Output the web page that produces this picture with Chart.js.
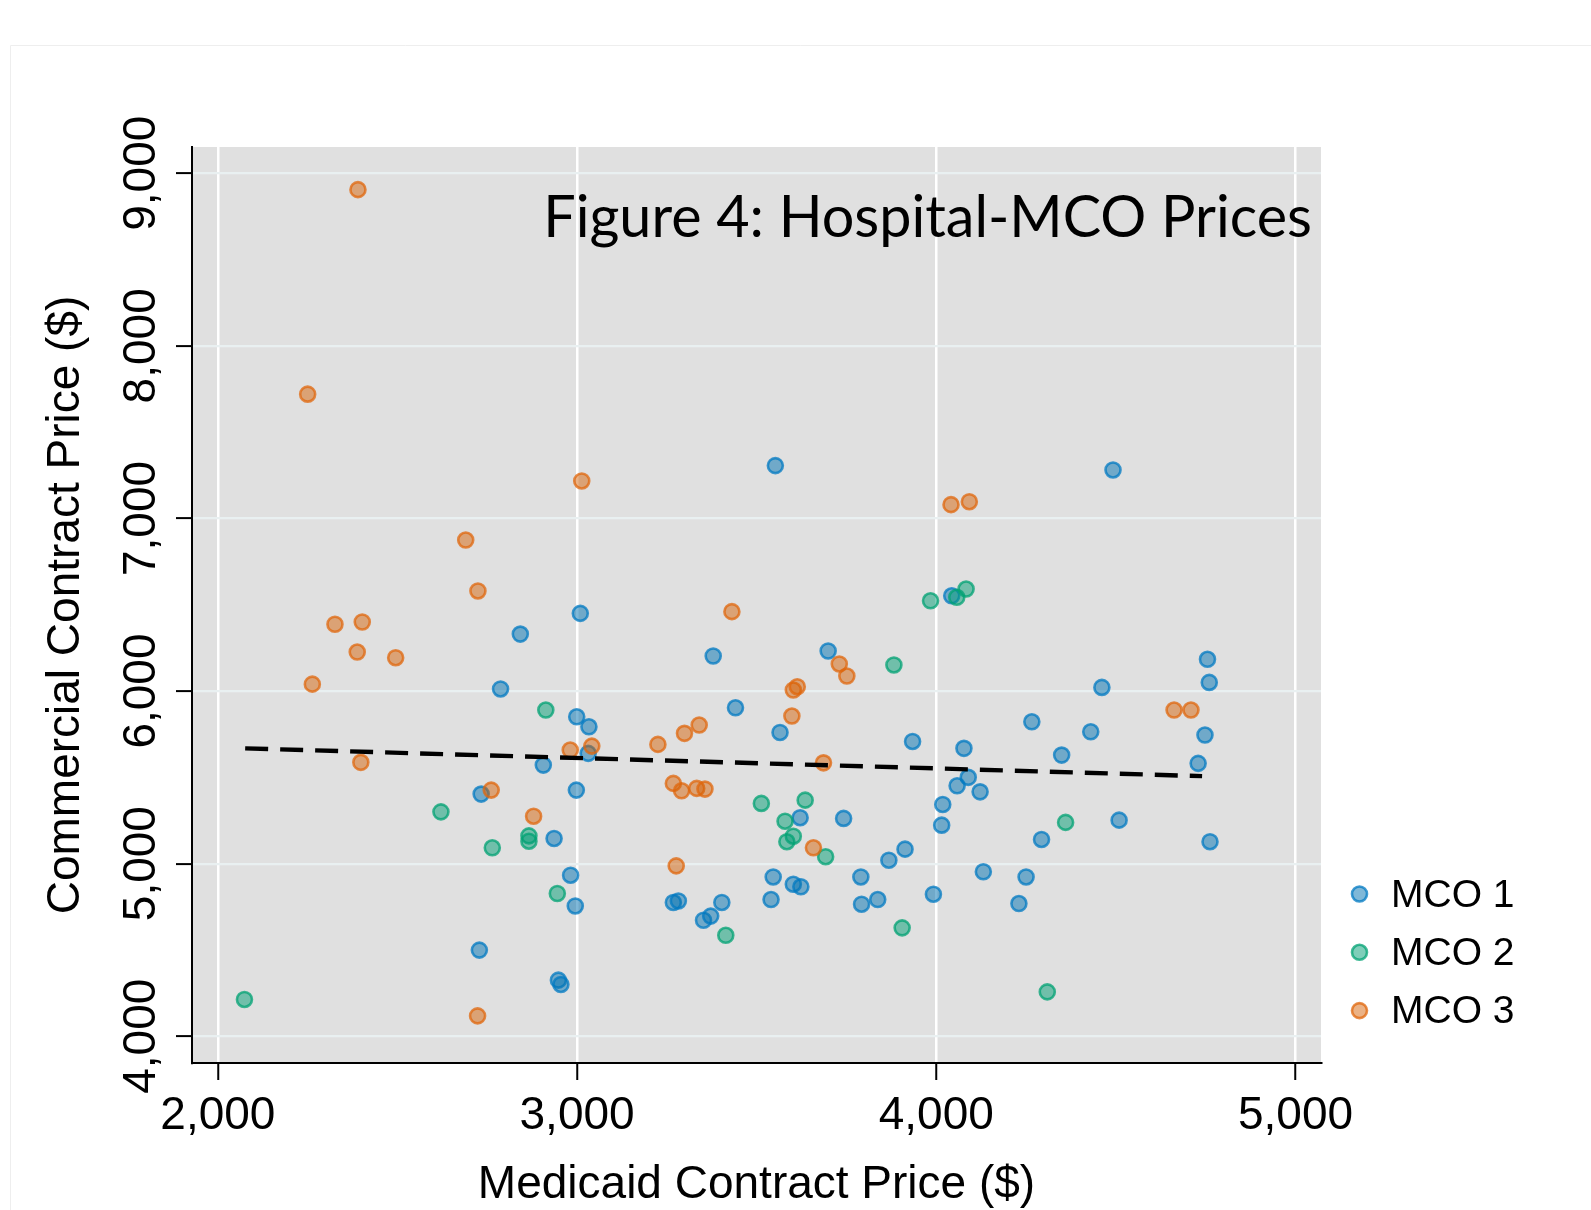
<!DOCTYPE html>
<html>
<head>
<meta charset="utf-8">
<title>Figure 4: Hospital-MCO Prices</title>
<script src="https://cdn.jsdelivr.net/npm/chart.js@4.4.1/dist/chart.umd.min.js"></script>
<style>
  html, body { margin: 0; padding: 0; background: #ffffff; }
  #wrap { width: 1591px; height: 1210px; position: relative; }
</style>
</head>
<body>
<div id="wrap"><canvas id="chart"></canvas></div>
<script>
// Hospital-MCO contract prices: Medicaid (x) vs commercial (y), one series per MCO
const seriesNames = ['MCO 1', 'MCO 2', 'MCO 3'];

const mco1Medicaid = [3552, 4492, 3009, 2842, 3379, 3699, 4755, 4760, 2787, 4461, 3441, 2999, 3033, 3565, 4266,
  4430, 4748, 3934, 4077, 4349, 4729, 2906, 3031, 2733, 2998, 4089, 4058, 4122, 4018, 4015, 3621, 3742, 4509,
  2936, 4293, 4762, 3913, 3868, 4131, 4250, 2982, 3546, 3790, 3602, 3623, 2995, 3268, 3282, 3403, 3540, 3792,
  3837, 3992, 4230, 3352, 3372, 2728, 2948, 2955, 4043];
const mco1Commercial = [7306, 7281, 6450, 6330, 6203, 6232, 6184, 6050, 6012, 6021, 5903, 5851, 5793, 5760, 5822,
  5764, 5745, 5708, 5668, 5629, 5581, 5571, 5639, 5403, 5426, 5500, 5451, 5416, 5343, 5223, 5266, 5262, 5252,
  5146, 5140, 5127, 5084, 5020, 4953, 4923, 4933, 4923, 4923, 4881, 4866, 4755, 4775, 4784, 4775, 4792, 4765,
  4792, 4823, 4769, 4672, 4696, 4499, 4325, 4300, 6552];

const mco2Medicaid = [3984, 4057, 4083, 3882, 2913, 3513, 3635, 3579, 3602, 3584, 3692, 2621, 2866, 2866, 2764,
  2945, 4360, 3905, 3414, 4309, 2074];
const mco2Commercial = [6523, 6543, 6591, 6151, 5890, 5349, 5368, 5246, 5159, 5127, 5040, 5300, 5161, 5130, 5092,
  4827, 5239, 4628, 4585, 4257, 4213];

const mco3Medicaid = [2390, 2250, 3013, 4041, 4092, 2690, 2724, 2326, 2402, 2388, 2495, 2263, 3431, 3730, 3751,
  3602, 3613, 3598, 4662, 4709, 3225, 3299, 3340, 2981, 3041, 3686, 2398, 2761, 3268, 3291, 3333, 3356, 2879,
  3658, 3276, 2723];
const mco3Commercial = [8905, 7720, 7217, 7080, 7097, 6875, 6580, 6387, 6400, 6226, 6193, 6040, 6460, 6157, 6087,
  6006, 6025, 5855, 5890, 5890, 5691, 5755, 5803, 5658, 5681, 5584, 5587, 5426, 5465, 5422, 5436, 5432, 5275,
  5092, 4987, 4118];

// Linear fit through all hospital-MCO pairs (end points)
const fitMedicaid = [2076, 4740];
const fitCommercial = [5668, 5507];

// Axes
const xTicks = [2000, 3000, 4000, 5000];
const xTickLabels = ['2,000', '3,000', '4,000', '5,000'];
const yTicks = [4000, 5000, 6000, 7000, 8000, 9000];
const yTickLabels = ['4,000', '5,000', '6,000', '7,000', '8,000', '9,000'];
const xRange = [1928, 5071];
const yRange = [3845, 9152];

const xTitle = 'Medicaid Contract Price ($)';
const yTitle = 'Commercial Contract Price ($)';
const figureTitle = 'Figure 4: Hospital-MCO Prices';

const toPoints = (xs, ys) => xs.map((x, i) => ({ x: x, y: ys[i] }));

const seriesColors = [
  { fill: 'rgba(0,114,178,0.50)', line: 'rgba(0,122,194,0.74)' },
  { fill: 'rgba(0,158,115,0.50)', line: 'rgba(0,162,115,0.74)' },
  { fill: 'rgba(213,94,0,0.48)',  line: 'rgba(224,102,12,0.74)' }
];

const scatterSet = (i, xs, ys) => ({
  type: 'scatter',
  label: seriesNames[i],
  data: toPoints(xs, ys),
  backgroundColor: seriesColors[i].fill,
  borderColor: seriesColors[i].line,
  borderWidth: 2.6,
  pointRadius: 7.5,
  pointHoverRadius: 7.5,
  order: 3 - i
});

const FONT = '"Liberation Sans", Arial, Helvetica, sans-serif';

// Panel background, outer frame, in-panel heading and the key
const decorations = {
  id: 'decorations',
  beforeDraw(chart) {
    const { ctx, chartArea: a, width, height } = chart;
    ctx.save();
    ctx.fillStyle = '#ffffff';
    ctx.fillRect(0, 0, width, height);
    ctx.strokeStyle = '#eeeeee';
    ctx.lineWidth = 1;
    ctx.beginPath();
    ctx.moveTo(10.5, height);
    ctx.lineTo(10.5, 45.5);
    ctx.lineTo(width, 45.5);
    ctx.stroke();
    ctx.fillStyle = '#e0e0e0';
    ctx.fillRect(a.left, a.top, a.right - a.left, a.bottom - a.top);
    ctx.restore();
  },
  afterDraw(chart) {
    const { ctx } = chart;
    ctx.save();
    ctx.fillStyle = '#000000';
    ctx.font = '57.5px Lato, "Open Sans", sans-serif';
    ctx.textAlign = 'right';
    ctx.textBaseline = 'alphabetic';
    ctx.fillText(figureTitle, 1312, 237);

    // key
    ctx.font = '39px ' + FONT;
    ctx.textAlign = 'left';
    ctx.textBaseline = 'middle';
    seriesNames.forEach((name, i) => {
      const ds = chart.data.datasets[i];
      const cy = 894 + i * 58.3;
      ctx.beginPath();
      ctx.arc(1359.5, cy, 7.5, 0, Math.PI * 2);
      ctx.fillStyle = ds.backgroundColor;
      ctx.fill();
      ctx.lineWidth = 2.6;
      ctx.strokeStyle = ds.borderColor;
      ctx.stroke();
      ctx.fillStyle = '#000000';
      ctx.fillText(name, 1391, cy + 2);
    });
    ctx.restore();
  }
};

new Chart(document.getElementById('chart'), {
  type: 'scatter',
  data: {
    datasets: [
      scatterSet(0, mco1Medicaid, mco1Commercial),
      scatterSet(1, mco2Medicaid, mco2Commercial),
      scatterSet(2, mco3Medicaid, mco3Commercial),
      {
        type: 'line',
        label: 'Linear fit',
        data: toPoints(fitMedicaid, fitCommercial),
        borderColor: '#000000',
        borderWidth: 4.4,
        borderDash: [23, 12],
        pointRadius: 0,
        fill: false,
        order: 0
      }
    ]
  },
  options: {
    responsive: true,
    maintainAspectRatio: false,
    animation: false,
    layout: { padding: { top: 147, right: 270, left: 0, bottom: 0 } },
    plugins: {
      legend: { display: false },
      tooltip: { enabled: false },
      title: { display: false }
    },
    scales: {
      x: {
        type: 'linear',
        min: xRange[0],
        max: xRange[1],
        afterBuildTicks: (s) => { s.ticks = xTicks.map(v => ({ value: v })); },
        afterFit: (s) => { s.height = 147; },
        ticks: {
          callback: (v) => xTickLabels[xTicks.indexOf(v)],
          font: { family: FONT, size: 46 },
          color: '#000000',
          padding: 9,
          maxRotation: 0,
          minRotation: 0
        },
        grid: {
          color: '#ffffff',
          lineWidth: 2.5,
          tickLength: 17,
          tickColor: '#000000',
          tickWidth: 2
        },
        border: { display: true, color: '#000000', width: 2 },
        title: {
          display: true,
          text: xTitle,
          font: { family: FONT, size: 46 },
          color: '#000000',
          padding: { top: 0, bottom: -3 }
        }
      },
      y: {
        type: 'linear',
        min: yRange[0],
        max: yRange[1],
        afterBuildTicks: (s) => { s.ticks = yTicks.map(v => ({ value: v })); },
        afterFit: (s) => { s.width = 192; },
        ticks: {
          callback: (v) => yTickLabels[yTicks.indexOf(v)],
          font: { family: FONT, size: 46 },
          color: '#000000',
          minRotation: 90,
          maxRotation: 90,
          crossAlign: 'center',
          padding: -23.5
        },
        grid: {
          color: '#e9f0f1',
          lineWidth: 2.2,
          tickLength: 16,
          tickColor: '#000000',
          tickWidth: 2
        },
        border: { display: true, color: '#000000', width: 2 },
        title: {
          display: true,
          text: yTitle,
          font: { family: FONT, size: 46 },
          color: '#000000',
          padding: { top: 39, bottom: 0 }
        }
      }
    }
  },
  plugins: [decorations]
});
</script>
</body>
</html>
